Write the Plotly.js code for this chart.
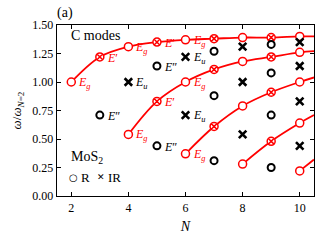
<!DOCTYPE html>
<html><head><meta charset="utf-8">
<script src="https://cdn.plot.ly/plotly-3.0.1.min.js"></script>
<style>html,body{margin:0;padding:0;background:#fff}#c{width:320px;height:240px}</style>
</head><body><div id="c"></div>
<script>
// Red branches (Raman-active, odd modes), values at integer N
const chain1N = [2,3,4,5,6,7,8,9,10];
const chain1V = [1.00,1.22,1.31,1.35,1.37,1.38,1.39,1.39,1.40];
const chain2N = [4,5,6,7,8,9,10];
const chain2V = [0.54,0.83,1.00,1.11,1.18,1.22,1.26];
const chain3N = [6,7,8,9,10];
const chain3V = [0.37,0.61,0.79,0.91,1.00];
const chain4N = [8,9,10];
const chain4V = [0.28,0.48,0.64];
const chain5N = [10];
const chain5V = [0.22];
// value of each red curve where it leaves the plot at N = 10.5
const edgeN = 10.5;
const edgeV = [1.40,1.27,1.04,0.71,0.32];
// black points
const ramanN = [3,5,5,7,7,7,9,9,9,9];
const ramanV = [0.71,1.14,0.44,1.27,0.88,0.31,1.33,1.08,0.71,0.25];
const irN = [4,6,6,8,8,8,10,10,10,10];
const irV = [1.00,1.22,0.71,1.31,1.00,0.54,1.35,1.14,0.83,0.44];
const xTicks = [2,4,6,8,10];
const yTicks = [0,0.25,0.5,0.75,1.0,1.25,1.5];

const RED = '#ff0000';
const chains = [[chain1N,chain1V],[chain2N,chain2V],[chain3N,chain3V],[chain4N,chain4V],[chain5N,chain5V]];
const traces = [];
chains.forEach((c,i)=>{
  traces.push({x:c[0].concat([edgeN]), y:c[1].concat([edgeV[i]]), mode:'lines',
    line:{color:RED,width:1.8,shape:'spline',smoothing:1}, hoverinfo:'skip', showlegend:false});
});
chains.forEach(c=>{
  traces.push({x:c[0], y:c[1], mode:'markers', showlegend:false, cliponaxis:false,
    marker:{color:'white', size:8, symbol:c[0].map(n=> n%2===0?'circle':'circle-x'),
      line:{color:RED,width:1.5}}});
});
traces.push({x:ramanN,y:ramanV,mode:'markers',showlegend:false,cliponaxis:false,
  marker:{symbol:'circle',size:7,color:'white',line:{color:'black',width:2}}});
traces.push({x:irN,y:irV,mode:'markers',showlegend:false,cliponaxis:false,
  marker:{symbol:'x-thin-open',size:7.5,color:'black',line:{color:'black',width:2.6}}});

const SERIF = "'Liberation Serif', 'DejaVu Serif', serif";
const Eg = '<i>E</i><sub><i>g</i></sub>';
const Ep = '<i>E</i>′';
const Epp = '<i>E</i>″';
const Eu = '<i>E</i><sub><i>u</i></sub>';
// [xArray, yArray, index, text, colour]
const labels = [
  [chain1N,chain1V,0,Eg,RED],[chain1N,chain1V,1,Ep,RED],[chain1N,chain1V,2,Eg,RED],
  [chain1N,chain1V,3,Ep,RED],[chain1N,chain1V,4,Eg,RED],
  [chain2N,chain2V,0,Eg,RED],[chain2N,chain2V,1,Ep,RED],[chain2N,chain2V,2,Eg,RED],
  [chain3N,chain3V,0,Eg,RED],
  [ramanN,ramanV,0,Epp,'black'],[ramanN,ramanV,1,Epp,'black'],[ramanN,ramanV,2,Epp,'black'],
  [irN,irV,0,Eu,'black'],[irN,irV,1,Eu,'black'],[irN,irV,2,Eu,'black']
];
const annotations = labels.map(l=>({x:l[0][l[2]], y:l[1][l[2]], xref:'x', yref:'y', text:l[3],
  showarrow:false, xanchor:'left', yanchor:'middle', xshift:5, yshift:-1,
  font:{family:SERIF, size:12, color:l[4]}}));
annotations.push({xref:'paper',yref:'paper',x:0.045,y:0.94,xanchor:'left',yanchor:'middle',showarrow:false,
  text:'C modes',font:{family:SERIF,size:14,color:'black'}});
annotations.push({xref:'paper',yref:'paper',x:0.047,y:0.225,xanchor:'left',yanchor:'middle',showarrow:false,
  text:'MoS<sub>2</sub>',font:{family:SERIF,size:14,color:'black'}});
annotations.push({xref:'paper',yref:'paper',x:0.066,y:0.111,xanchor:'center',yanchor:'middle',showarrow:false,
  text:'<b>○</b>',font:{family:'DejaVu Sans',size:10,color:'black'}});
annotations.push({xref:'paper',yref:'paper',x:0.087,y:0.111,xanchor:'left',yanchor:'middle',showarrow:false,
  text:'R',font:{family:SERIF,size:13,color:'black'}});
annotations.push({xref:'paper',yref:'paper',x:0.171,y:0.111,xanchor:'center',yanchor:'middle',showarrow:false,
  text:'<b>✕</b>',font:{family:'DejaVu Sans',size:9,color:'black'}});
annotations.push({xref:'paper',yref:'paper',x:0.19,y:0.111,xanchor:'left',yanchor:'middle',showarrow:false,
  text:'IR',font:{family:SERIF,size:13,color:'black'}});

const axisCommon = {showgrid:false, zeroline:false, showline:true, linecolor:'black', linewidth:1.3,
  mirror:'ticks', ticks:'inside', ticklen:4, tickwidth:1, tickcolor:'black',
  tickfont:{family:SERIF,size:12,color:'black'}};
const layout = {
  width:320, height:240, margin:{l:57,r:6,t:25,b:44}, paper_bgcolor:'white', plot_bgcolor:'white',
  title:{text:'(a)', x:0, xref:'paper', xanchor:'left', y:0.95, yref:'container', yanchor:'middle',
    font:{family:SERIF,size:14,color:'black'}},
  xaxis:Object.assign({}, axisCommon, {range:[1.5,10.5], tickvals:xTicks, ticktext:xTicks.map(String),
    title:{text:'<i>N</i>', standoff:7, font:{family:SERIF,size:14,color:'black'}}}),
  yaxis:Object.assign({}, axisCommon, {range:[0,1.5], tickvals:yTicks, ticktext:yTicks.map(v=>v.toFixed(2)),
    title:{text:'<i>ω</i>/<i>ω</i><sub><i>N</i>=2</sub>', standoff:7, font:{family:SERIF,size:13,color:'black'}}}),
  annotations:annotations, showlegend:false
};
Plotly.newPlot('c', traces, layout, {displayModeBar:false, staticPlot:true});
</script></body></html>
